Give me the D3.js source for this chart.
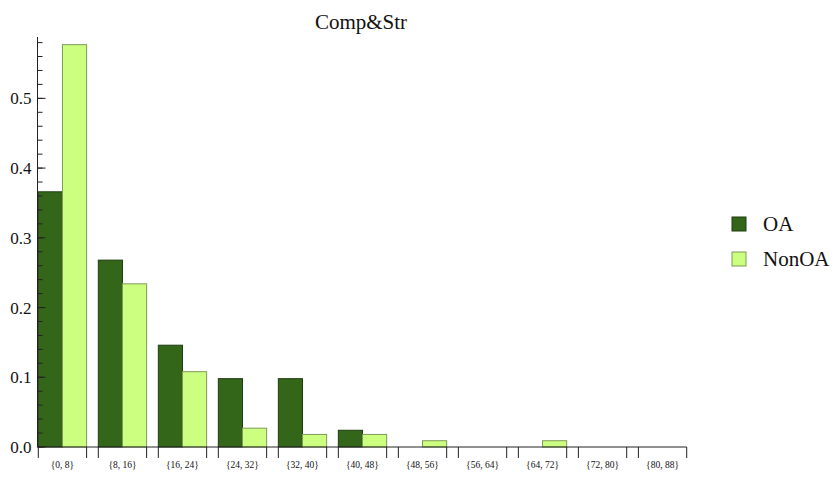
<!DOCTYPE html>
<html>
<head>
<meta charset="utf-8">
<script src="https://cdnjs.cloudflare.com/ajax/libs/d3/7.8.5/d3.min.js"></script>
<style>
  body { margin: 0; background: #fff; }
</style>
</head>
<body>
<script>
// bins and the two series (share of items per bin)
const bins = ["{0, 8}", "{8, 16}", "{16, 24}", "{24, 32}", "{32, 40}", "{40, 48}",
    "{48, 56}", "{56, 64}", "{64, 72}", "{72, 80}", "{80, 88}"];
const seriesNames = ["OA", "NonOA"];
const oaValues = [0.366, 0.268, 0.146, 0.098, 0.098, 0.024, 0, 0, 0, 0, 0];
const nonOaValues = [0.577, 0.234, 0.108, 0.027, 0.018, 0.018, 0.009, 0, 0.009, 0, 0];
const yTicks = [0, 0.1, 0.2, 0.3, 0.4, 0.5];

const colors = {OA: "#336619", NonOA: "#ccff80"};
const edges = {OA: "#1f3d10", NonOA: "#7f9a55"};

const W = 836, H = 477;
const x0 = 37.5, x1 = 686.7, yBase = 447, yTop = 37;

const svg = d3.select("body").append("svg")
    .attr("width", W)
    .attr("height", H)
    .attr("font-family", "'Liberation Serif', 'Times New Roman', Times, 'DejaVu Serif', serif")
    .style("font-family", "'Liberation Serif', 'Times New Roman', Times, 'DejaVu Serif', serif");

// scales
const x = d3.scaleBand()
    .domain(bins)
    .range([38.3, 686.7])
    .paddingInner(0.195)
    .paddingOuter(0);

const xs = d3.scaleBand()
    .domain(seriesNames)
    .range([0, x.bandwidth()]);

const y = d3.scaleLinear()
    .domain([0, 0.588])
    .range([yBase, yTop]);

const rows = bins.map((b, i) => ({bin: b, OA: oaValues[i], NonOA: nonOaValues[i]}));

// bars
const groups = svg.append("g").selectAll("g")
    .data(rows)
    .join("g")
    .attr("transform", d => "translate(" + x(d.bin) + ",0)");

groups.selectAll("rect")
    .data(d => seriesNames.map(k => ({key: k, value: d[k]})).filter(d => d.value > 0))
    .join("rect")
    .attr("x", d => xs(d.key))
    .attr("y", d => y(d.value))
    .attr("width", xs.bandwidth())
    .attr("height", d => yBase - y(d.value))
    .attr("fill", d => colors[d.key])
    .attr("stroke", d => edges[d.key])
    .attr("stroke-width", 1);

// y axis with minor ticks
const yAxis = svg.append("g").attr("transform", "translate(" + x0 + ",0)");
yAxis.append("line")
    .attr("y1", y(0)).attr("y2", yTop)
    .attr("stroke", "#222");
yAxis.selectAll("line.minor")
    .data(d3.range(0, 0.5801, 0.02))
    .join("line")
    .attr("class", "minor")
    .attr("y1", d => y(d)).attr("y2", d => y(d))
    .attr("x2", 5)
    .attr("stroke", "#222");
yAxis.selectAll("line.major")
    .data(yTicks)
    .join("line")
    .attr("class", "major")
    .attr("y1", d => y(d)).attr("y2", d => y(d))
    .attr("x2", 8)
    .attr("stroke", "#222");
yAxis.selectAll("text")
    .data(yTicks)
    .join("text")
    .attr("x", -6)
    .attr("y", d => y(d) + 6)
    .attr("text-anchor", "end")
    .attr("font-size", 17)
    .attr("fill", "#111")
    .text(d3.format(".1f"));

// x axis: ticks at both edges of each bin group
const xAxis = svg.append("g");
xAxis.append("line")
    .attr("x1", x0).attr("x2", x1)
    .attr("y1", yBase).attr("y2", yBase)
    .attr("stroke", "#222");
const edgesX = bins.flatMap(b => [x(b), x(b) + x.bandwidth()]);
xAxis.selectAll("line.tick")
    .data(edgesX)
    .join("line")
    .attr("class", "tick")
    .attr("x1", d => d).attr("x2", d => d)
    .attr("y1", yBase).attr("y2", yBase + 11)
    .attr("stroke", "#222");
xAxis.selectAll("text")
    .data(bins)
    .join("text")
    .attr("x", d => x(d) + x.bandwidth() / 2)
    .attr("y", 468)
    .attr("text-anchor", "middle")
    .attr("font-size", 9.5)
    .attr("fill", "#111")
    .text(d => d);

// title
svg.append("text")
    .attr("x", 361)
    .attr("y", 29)
    .attr("text-anchor", "middle")
    .attr("font-size", 21)
    .attr("fill", "#111")
    .text("Comp&Str");

// legend
const legend = svg.append("g").selectAll("g")
    .data(seriesNames)
    .join("g")
    .attr("transform", (d, i) => "translate(732," + (217 + i * 35) + ")");
legend.append("rect")
    .attr("width", 14).attr("height", 14)
    .attr("fill", d => colors[d])
    .attr("stroke", d => edges[d]);
legend.append("text")
    .attr("x", 31)
    .attr("y", 14)
    .attr("font-size", 21)
    .attr("fill", "#111")
    .text(d => d);
</script>
</body>
</html>
